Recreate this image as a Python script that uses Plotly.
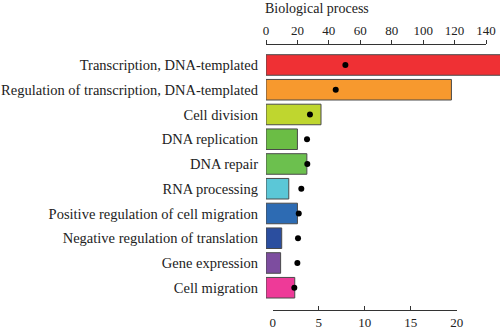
import plotly.graph_objects as go

categories = [
    "Transcription, DNA-templated",
    "Regulation of transcription, DNA-templated",
    "Cell division",
    "DNA replication",
    "DNA repair",
    "RNA processing",
    "Positive regulation of cell migration",
    "Negative regulation of translation",
    "Gene expression",
    "Cell migration",
]
gene_counts = [150, 118, 35, 20, 26, 14.5, 20, 10, 9.3, 18.3]
dot_values = [7.9, 6.85, 4.05, 3.73, 3.76, 3.11, 2.83, 2.75, 2.68, 2.35]
bar_colors = ["#EF3034", "#F7992E", "#BFD62F", "#6BBD45", "#6CC04E",
              "#5BC7D7", "#2D6BB3", "#2B4E9F", "#7D4D9F", "#EE3A98"]
top_ticks = [0, 20, 40, 60, 80, 100, 120, 140]
bottom_ticks = [0, 5, 10, 15, 20]

W, H = 500, 333
ML = 266
pw = W - ML
FONT = "Liberation Serif"

fig = go.Figure()
fig.add_trace(go.Bar(
    x=gene_counts, y=categories, orientation="h",
    marker=dict(color=bar_colors, line=dict(color="#4a4a4a", width=1)),
    xaxis="x", yaxis="y", showlegend=False, hoverinfo="x+y",
))
fig.add_trace(go.Scatter(
    x=dot_values, y=categories, mode="markers",
    marker=dict(color="black", size=6),
    xaxis="x2", yaxis="y", showlegend=False,
))
# display-only axes
fig.add_trace(go.Scatter(x=[None], y=[categories[0]], xaxis="x3", yaxis="y",
                         showlegend=False, hoverinfo="skip"))
fig.add_trace(go.Scatter(x=[None], y=[categories[0]], xaxis="x4", yaxis="y",
                         showlegend=False, hoverinfo="skip"))

top_px_per = 220 / 140
bot0, bot_px_per = 272.7, 9.2

hidden = dict(showticklabels=False, showline=False, ticks="", showgrid=False,
              zeroline=False, automargin=False)
axfont = dict(family=FONT, size=13, color="#222")
fig.update_layout(
    width=W, height=H,
    margin=dict(l=ML, r=0, t=0, b=0),
    paper_bgcolor="white", plot_bgcolor="rgba(0,0,0,0)",
    bargap=0.17,
    xaxis=dict(domain=[0, 1], range=[0, pw / top_px_per], anchor="y", **hidden),
    xaxis2=dict(overlaying="x", range=[(ML - bot0) / bot_px_per, (W - bot0) / bot_px_per],
                anchor="y", **hidden),
    xaxis3=dict(domain=[(bot0 - ML) / pw, (bot0 + 20 * bot_px_per - ML) / pw], range=[0, 20],
                anchor="free", position=(H - 310) / H, side="bottom", automargin=False,
                showline=True, linecolor="#333", linewidth=1,
                ticks="inside", ticklen=4, tickcolor="#333",
                tickvals=bottom_ticks, showgrid=False, zeroline=False, tickfont=axfont),
    xaxis4=dict(domain=[0, 220 / pw], range=[0, 140],
                anchor="free", position=(H - 44) / H, side="top", automargin=False,
                showline=True, linecolor="#333", linewidth=1,
                ticks="outside", ticklen=4, tickcolor="#333",
                tickvals=top_ticks, showgrid=False, zeroline=False, tickfont=axfont),
    yaxis=dict(domain=[(H - 300.1) / H, (H - 52.6) / H], anchor="x", automargin=False,
               type="category", categoryorder="array", categoryarray=categories,
               range=[9.5, -0.5], showgrid=False, zeroline=False, showline=False,
               ticks="", ticklabelstandoff=7, tickfont=dict(family=FONT, size=14.5, color="#222")),
    annotations=[dict(text="Biological process", xref="paper", yref="paper",
                      x=(262.5 - ML) / pw, y=(H - 8) / H, xanchor="left", yanchor="middle",
                      showarrow=False, font=dict(family=FONT, size=14, color="#222"))],
)

fig.write_html("out.html")
